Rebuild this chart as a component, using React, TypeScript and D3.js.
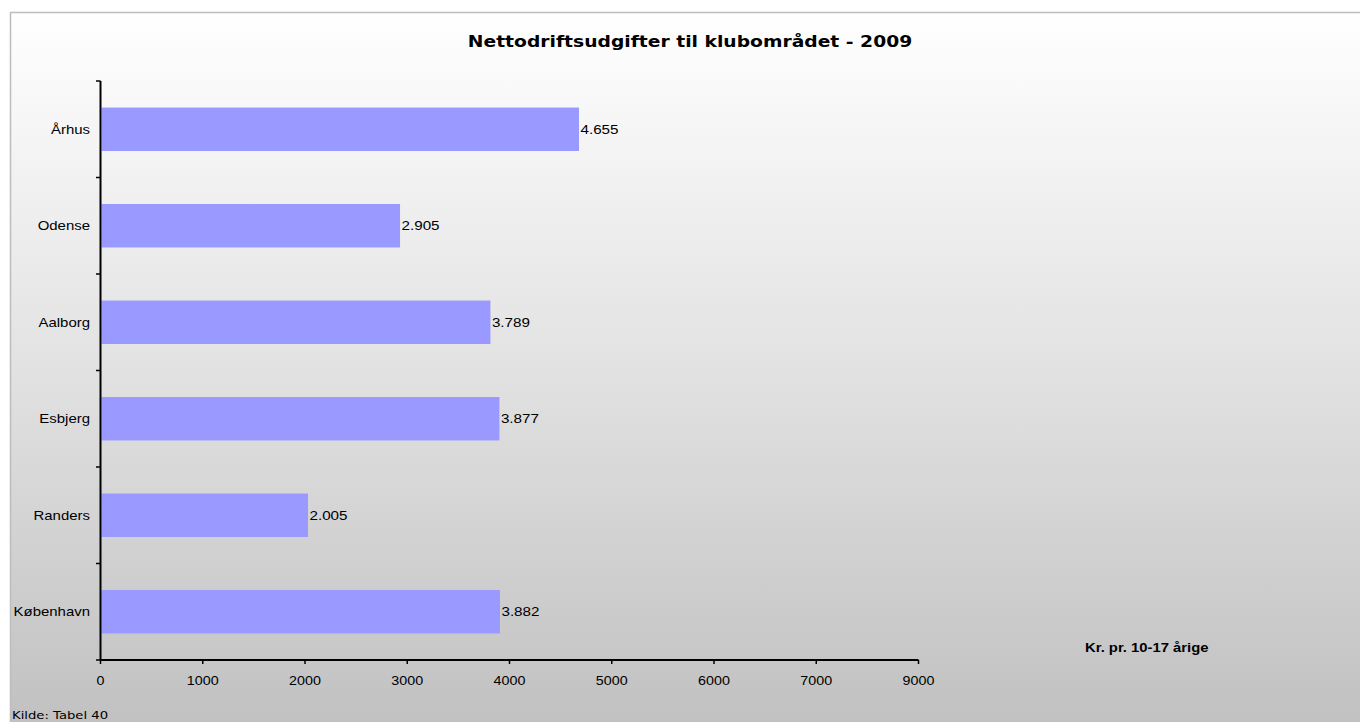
import React from "react";
import * as d3 from "d3";

const categories = ["Århus", "Odense", "Aalborg", "Esbjerg", "Randers", "København"];
const values = [4655, 2905, 3789, 3877, 2005, 3882];
const valueLabels = ["4.655", "2.905", "3.789", "3.877", "2.005", "3.882"];
const tickValues = [0, 1000, 2000, 3000, 4000, 5000, 6000, 7000, 8000];
const tickLabels = ["0", "1000", "2000", "3000", "4000", "5000", "6000", "7000", "9000"];
const title = "Nettodriftsudgifter til klubområdet - 2009";
const unitLabel = "Kr. pr. 10-17 årige";
const sourceLabel = "Kilde: Tabel 40";

const W = 1360;
const H = 722;
const x0 = 100.5;
const x1 = 918.5;
const yTop = 81;
const yBot = 660;

function SText(props: {
  x: number;
  y: number;
  sx: number;
  anchor?: string;
  font: string;
  size: number;
  weight?: string;
  children: React.ReactNode;
}) {
  return (
    <text
      transform={`translate(${props.x},${props.y}) scale(${props.sx},1)`}
      textAnchor={props.anchor || "start"}
      fontFamily={props.font}
      fontSize={props.size}
      fontWeight={props.weight || "normal"}
      fill="#000"
    >
      {props.children}
    </text>
  );
}

export default function App() {
  const x = d3.scaleLinear().domain([0, 8000]).range([x0, x1]);
  const y = d3
    .scaleBand<string>()
    .domain(categories)
    .range([yTop, yBot])
    .paddingInner(0.55)
    .paddingOuter(0.275);
  const boundaries = d3.range(categories.length + 1).map((i) => yTop + i * ((yBot - yTop) / categories.length));
  const labelFont = "'Liberation Sans', Arial, Helvetica, sans-serif";
  const verdana = "'DejaVu Sans', Verdana, sans-serif";

  return (
    <svg
      width={W}
      height={H}
      style={{ position: "absolute", left: 0, top: 0 }}
      viewBox={`0 0 ${W} ${H}`}
    >
      <defs>
        <linearGradient id="bg" x1="0" y1="0" x2="0" y2="1">
          <stop offset="0%" stopColor="#ffffff" />
          <stop offset="50%" stopColor="#e2e2e2" />
          <stop offset="100%" stopColor="#c1c1c1" />
        </linearGradient>
      </defs>
      <rect x={0} y={0} width={W} height={H} fill="#ffffff" />
      <rect x={10} y={12} width={W - 10} height={H - 12} fill="url(#bg)" />
      <line x1={10} y1={12.5} x2={W} y2={12.5} stroke="#bdbdbd" strokeWidth={1.5} />
      <line x1={10.5} y1={12} x2={10.5} y2={H} stroke="#bdbdbd" strokeWidth={1.5} />

      <SText x={690} y={47} sx={1.17} anchor="middle" font={verdana} size={16} weight="bold">
        {title}
      </SText>

      {categories.map((c, i) => (
        <g key={c}>
          <rect
            x={x(0) + 1}
            y={y(c)!}
            width={x(values[i]) - x(0) + 1.5}
            height={y.bandwidth()}
            fill="#9999ff"
          />
          <SText
            x={x(values[i]) + 4}
            y={y(c)! + y.bandwidth() / 2 + 4.5}
            sx={1.17}
            font={labelFont}
            size={13}
          >
            {valueLabels[i]}
          </SText>
          <SText
            x={90}
            y={y(c)! + y.bandwidth() / 2 + 4.5}
            sx={1.15}
            anchor="end"
            font={labelFont}
            size={13}
          >
            {c}
          </SText>
        </g>
      ))}

      {/* y axis */}
      <line x1={x0} y1={yTop} x2={x0} y2={yBot} stroke="#000" strokeWidth={2} />
      {boundaries.map((b, i) => (
        <line key={i} x1={96} y1={b} x2={x0} y2={b} stroke="#000" strokeWidth={1.5} />
      ))}

      {/* x axis */}
      <line x1={x0} y1={yBot} x2={x1} y2={yBot} stroke="#000" strokeWidth={2} />
      {tickValues.map((t, i) => (
        <g key={t}>
          <line x1={x(t)} y1={yBot} x2={x(t)} y2={yBot + 4} stroke="#000" strokeWidth={1.5} />
          <SText x={x(t)} y={685} sx={1.1} anchor="middle" font={labelFont} size={13}>
            {tickLabels[i]}
          </SText>
        </g>
      ))}

      <SText x={1085} y={652} sx={1.14} font={labelFont} size={13} weight="bold">
        {unitLabel}
      </SText>
      <SText x={12} y={719} sx={1.2} font={verdana} size={11}>
        {sourceLabel}
      </SText>
    </svg>
  );
}
